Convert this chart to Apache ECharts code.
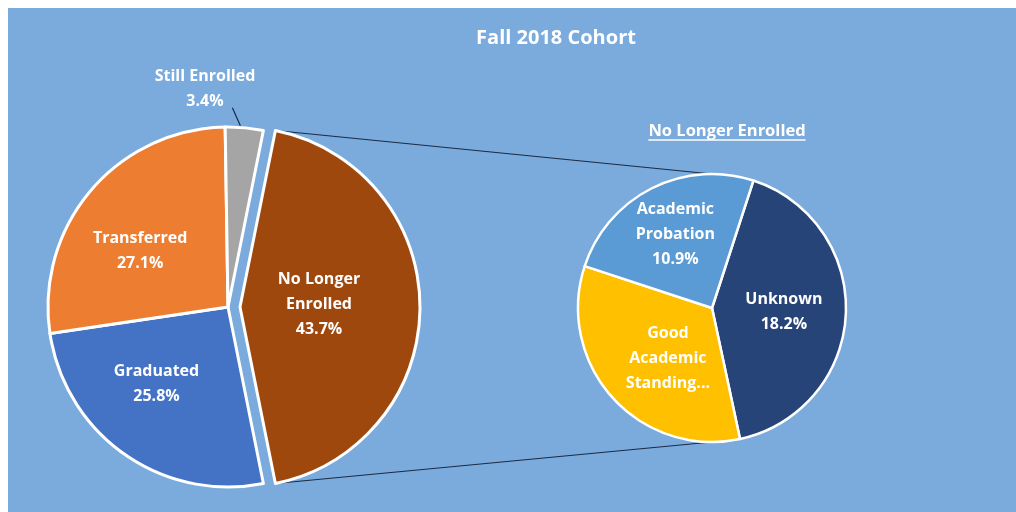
<!DOCTYPE html>
<html>
<head>
<meta charset="utf-8">
<script src="https://cdn.jsdelivr.net/npm/echarts@6/dist/echarts.min.js"></script>
<style>
html, body { margin: 0; padding: 0; background: #fff; }
#chart { position: absolute; left: 8px; top: 8px; width: 1008px; height: 504px; background: #7aabdc; }
</style>
</head>
<body>
<div id="chart"></div>
<script>
// main pie (clockwise from the exploded slice)
const mainNames = ['No Longer Enrolled', 'Graduated', 'Transferred', 'Still Enrolled'];
const mainLabels = ['No Longer\nEnrolled', 'Graduated', 'Transferred', 'Still Enrolled'];
const mainValues = [43.7, 25.8, 27.1, 3.4];
const mainColors = ['#9e480e', '#4472c4', '#ed7d31', '#a5a5a5'];

// breakdown of "No Longer Enrolled"
const subNames = ['Unknown', 'Good Academic Standing', 'Academic Probation'];
const subLabels = ['Unknown', 'Good\nAcademic\nStanding...', 'Academic\nProbation'];
const subValues = [18.2, 14.6, 10.9];
const subColors = ['#264478', '#ffc000', '#5b9bd5'];

const FONT = '"Open Sans", Lato, sans-serif';

const mainCenter = [220, 299], mainR = 180, explode = 12;
const subCenter = [704, 300], subR = 134;

// small nudges so labels sit where the original placed them
const mainNudge = [[-14, -3], [-18, 1], [-17, 4], [0, 0]];
const subNudge = [[2, 0], [8, 4], [-5, -11]];

const total = mainValues.reduce((a, b) => a + b, 0);
const mainStart = mainValues[0] / total * 360 / 2;

const chart = echarts.init(document.getElementById('chart'));

// connector lines from the exploded slice corners to the second pie
const rad = mainStart * Math.PI / 180;
const cornerX = mainCenter[0] + explode + mainR * Math.cos(rad);
const cornerDy = mainR * Math.sin(rad);

// mid point of the "Still Enrolled" slice rim, for its leader line
const stillMid = (mainStart + mainValues[3] / total * 360 / 2) * Math.PI / 180;
const stillX = mainCenter[0] + mainR * Math.cos(stillMid);
const stillY = mainCenter[1] - mainR * Math.sin(stillMid);

// measure subtitle for the underline
const ctx = document.createElement('canvas').getContext('2d');
ctx.font = 'bold 16.5px ' + FONT;
const subTitleW = ctx.measureText('No Longer Enrolled').width;

const option = {
    animation: false,
    title: {
        text: 'Fall 2018 Cohort',
        left: 543,
        top: 15,
        textAlign: 'center',
        textStyle: { color: '#fff', fontFamily: FONT, fontSize: 20, fontWeight: 'bold' }
    },
    graphic: [
        {
            type: 'text',
            left: 719 - subTitleW / 2,
            top: 115,
            style: { text: 'No Longer Enrolled', fill: '#fff', font: 'bold 16.5px ' + FONT }
        },
        {
            type: 'line',
            shape: { x1: 719 - subTitleW / 2, y1: 132, x2: 719 + subTitleW / 2, y2: 132 },
            style: { stroke: '#fff', lineWidth: 1.3 }
        },
        {
            type: 'line',
            z: 1,
            shape: { x1: cornerX, y1: mainCenter[1] - cornerDy, x2: subCenter[0], y2: subCenter[1] - subR },
            style: { stroke: '#1c2a44', lineWidth: 1.2 }
        },
        {
            type: 'line',
            z: 1,
            shape: { x1: cornerX, y1: mainCenter[1] + cornerDy, x2: subCenter[0], y2: subCenter[1] + subR },
            style: { stroke: '#1c2a44', lineWidth: 1.2 }
        }
    ],
    series: [
        {
            type: 'pie',
            center: mainCenter,
            radius: mainR,
            startAngle: mainStart,
            clockwise: true,
            selectedMode: 'single',
            selectedOffset: explode,
            z: 3,
            itemStyle: { borderColor: '#fff', borderWidth: 3 },
            label: {
                show: true,
                position: 'inside',
                color: '#fff',
                fontFamily: FONT,
                fontSize: 16,
                fontWeight: 'bold',
                lineHeight: 25,
                formatter: p => mainLabels[p.dataIndex] + '\n' + p.value.toFixed(1) + '%'
            },
            labelLine: { show: false },
            labelLayout: p => {
                if (p.dataIndex === 3) {
                    return {
                        x: 197, y: 81, align: 'center', verticalAlign: 'middle',
                        labelLinePoints: [[stillX - 4, stillY - 2], [stillX - 12, stillY - 20], [stillX - 12, stillY - 20]]
                    };
                }
                return { dx: mainNudge[p.dataIndex][0], dy: mainNudge[p.dataIndex][1] };
            },
            emphasis: { disabled: true },
            data: mainNames.map((n, i) => ({
                name: n,
                value: mainValues[i],
                selected: i === 0,
                itemStyle: { color: mainColors[i] },
                label: i === 3 ? { position: 'outside' } : undefined,
                labelLine: i === 3 ? { show: true, length: 18, length2: 0, lineStyle: { color: '#1c2a44', width: 1.2 } } : undefined
            }))
        },
        {
            type: 'pie',
            center: subCenter,
            radius: subR,
            startAngle: 72,
            clockwise: true,
            z: 3,
            itemStyle: { borderColor: '#fff', borderWidth: 2.5 },
            label: {
                show: true,
                position: 'inside',
                color: '#fff',
                fontFamily: FONT,
                fontSize: 16,
                fontWeight: 'bold',
                lineHeight: 25,
                formatter: p => p.dataIndex === 1 ? subLabels[1] : subLabels[p.dataIndex] + '\n' + p.value.toFixed(1) + '%'
            },
            labelLine: { show: false },
            labelLayout: p => ({ dx: subNudge[p.dataIndex][0], dy: subNudge[p.dataIndex][1] }),
            emphasis: { disabled: true },
            data: subNames.map((n, i) => ({ name: n, value: subValues[i], itemStyle: { color: subColors[i] } }))
        }
    ]
};

chart.setOption(option);
</script>
</body>
</html>
